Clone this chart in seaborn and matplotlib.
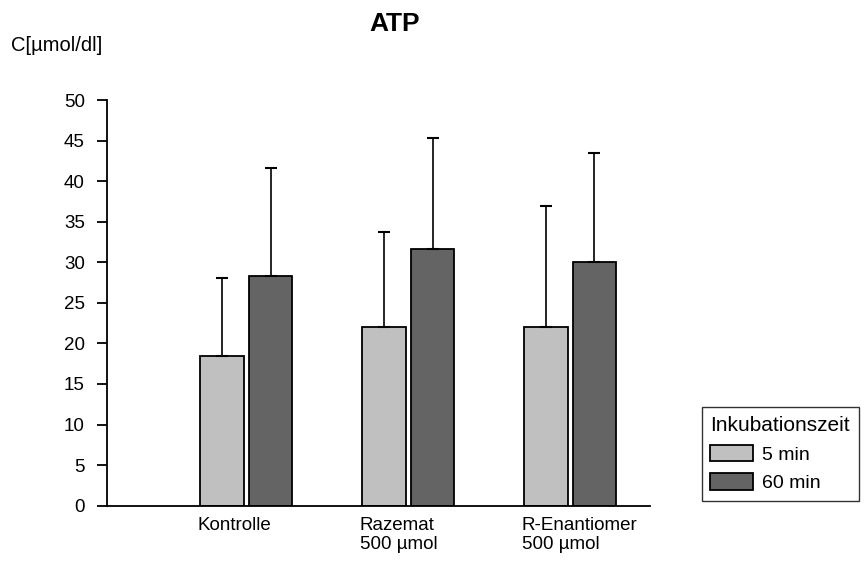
import numpy as np
import pandas as pd
import matplotlib
matplotlib.use("Agg")
import matplotlib.pyplot as plt
import seaborn as sns

# --- data ---
gruppen = ["Kontrolle", "Razemat\n500 µmol", "R-Enantiomer\n500 µmol"]
zeiten = ["5 min", "60 min"]
mw_5min = [18.5, 22.0, 22.0]
sd_5min = [9.6, 11.8, 15.0]
mw_60min = [28.3, 31.6, 30.1]
sd_60min = [13.4, 13.8, 13.4]

df = pd.DataFrame({
    "Gruppe": gruppen * 2,
    "Zeit": [zeiten[0]] * 3 + [zeiten[1]] * 3,
    "C": mw_5min + mw_60min,
    "SD": sd_5min + sd_60min,
})

sns.set_style("white")
plt.rcParams["font.family"] = ["Liberation Sans", "DejaVu Sans"]
plt.rcParams["text.color"] = "black"
plt.rcParams["xtick.color"] = "black"
plt.rcParams["ytick.color"] = "black"
FS = 13.5

fig = plt.figure(figsize=(8.64, 5.63), dpi=100)
ax = fig.add_axes([0.1238, 0.102, 0.628, 0.72])

sns.barplot(data=df, x="Gruppe", y="C", hue="Zeit", order=gruppen,
            hue_order=zeiten, palette=["#c0c0c0", "#646464"],
            width=0.6, gap=0.1, edgecolor="black", linewidth=1.3,
            errorbar=None, saturation=1, ax=ax)

# nur nach oben gerichtete SD-Balken
sds = [sd_5min, sd_60min]
for cont, sd in zip(ax.containers, sds):
    xs = [p.get_x() + p.get_width() / 2 for p in cont]
    ys = [p.get_height() for p in cont]
    ax.errorbar(xs, ys, yerr=[np.zeros(len(sd)), sd], fmt="none",
                ecolor="black", elinewidth=1.2, capsize=4.5, capthick=1.5,
                zorder=1)

ax.set_ylim(0, 50)
ax.set_xlim(-0.86, 2.49)
ax.set_yticks(np.arange(0, 51, 5))
ax.tick_params(axis="y", left=True, length=7, width=1.3, pad=9,
               labelsize=FS, direction="out", labelcolor="black")
ax.set_xticks(np.arange(len(gruppen)) - 0.3)
ax.set_xticklabels(gruppen, ha="left", fontsize=FS, color="black")
ax.tick_params(axis="x", length=0, pad=8)
ax.set_xlabel("")
ax.set_ylabel("")
sns.despine(ax=ax)
for s in ["left", "bottom"]:
    ax.spines[s].set_color("black")
    ax.spines[s].set_linewidth(1.3)

fig.text(0.457, 0.957, "ATP", ha="center", va="center",
         fontsize=19, fontweight="bold", color="black")
fig.text(0.013, 0.92, "C[µmol/dl]", ha="left", va="center",
         fontsize=14.5, color="black")

handles, labels = ax.get_legend_handles_labels()
ax.get_legend().remove()
leg = fig.legend(handles, labels, title="Inkubationszeit",
                 loc="upper left", bbox_to_anchor=(0.812, 0.277),
                 borderaxespad=0, frameon=True, fancybox=False,
                 edgecolor="black", fontsize=14, title_fontsize=15,
                 handlelength=2.2, handleheight=0.95, labelspacing=0.5,
                 handletextpad=0.45, borderpad=0.45, alignment="left")
leg.get_frame().set_linewidth(1.0)
for t in leg.get_texts():
    t.set_color("black")
leg.get_title().set_color("black")

fig.savefig("out.png", dpi=100)
